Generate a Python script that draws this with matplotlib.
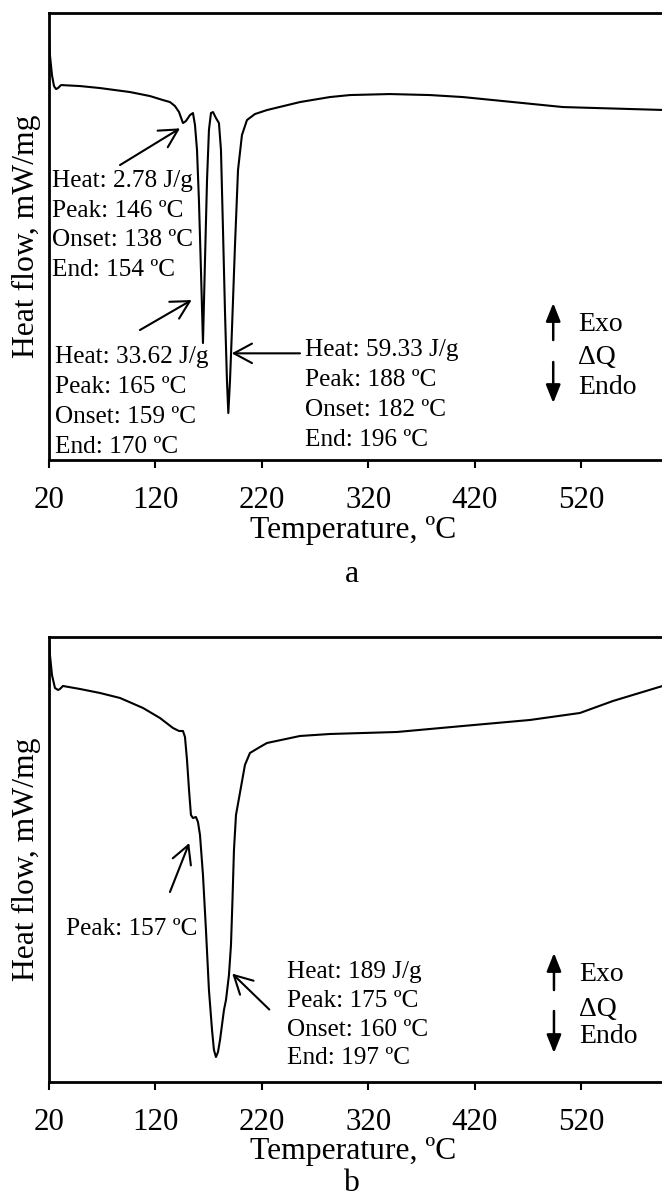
import matplotlib.pyplot as plt

plt.rcParams['font.family'] = ['Liberation Serif', 'DejaVu Serif']

# DSC curve (a): temperature in ºC and heat flow (arbitrary units, exo up)
temp_a = [20.0, 20.9, 22.8, 24.7, 26.6, 28.5, 31.3, 49.1, 67.9, 96.1, 114.8,
          127.0, 133.6, 138.3, 142.1, 145.8, 148.6, 152.4, 155.2, 157.1, 159.0,
          160.8, 162.7, 164.6, 166.5, 168.4, 170.2, 172.1, 174.0, 176.8, 179.6,
          181.5, 183.4, 185.3, 187.1, 188.4, 190.0, 191.8, 194.6, 197.5, 201.2,
          205.9, 213.4, 224.7, 255.7, 283.8, 302.6, 340.0, 377.7, 408.7, 455.7,
          502.6, 534.6, 599.3]
hf_a = [-0.20, -0.42, -0.62, -0.73, -0.76, -0.75, -0.72, -0.73, -0.75, -0.79,
        -0.83, -0.87, -0.89, -0.93, -0.99, -1.10, -1.08, -1.02, -1.00, -1.12,
        -1.37, -1.87, -2.57, -3.30, -2.47, -1.67, -1.17, -1.00, -0.99, -1.05,
        -1.10, -1.37, -2.17, -3.00, -3.67, -4.00, -3.67, -3.17, -2.34, -1.57,
        -1.22, -1.07, -1.01, -0.97, -0.89, -0.84, -0.82, -0.81, -0.82, -0.84,
        -0.89, -0.94, -0.95, -0.97]

# DSC curve (b)
temp_b = [20.0, 20.9, 22.8, 25.6, 28.5, 30.3, 33.1, 49.1, 67.9, 86.7, 108.3,
          124.2, 136.4, 142.1, 145.8, 147.7, 149.6, 151.5, 153.3, 155.2, 158.0,
          159.9, 161.8, 164.6, 167.4, 170.2, 173.1, 174.9, 176.8, 178.7, 180.6,
          184.3, 186.2, 189.0, 190.9, 192.3, 193.7, 195.6, 199.3, 204.0, 208.7,
          218.1, 224.7, 255.7, 283.8, 346.8, 408.7, 471.6, 518.6, 549.6, 599.3]
hf_b = [-0.01, -0.18, -0.38, -0.51, -0.53, -0.52, -0.49, -0.52, -0.56, -0.61,
        -0.71, -0.81, -0.91, -0.94, -0.94, -1.00, -1.23, -1.53, -1.78, -1.81,
        -1.80, -1.85, -1.98, -2.38, -2.93, -3.53, -3.93, -4.13, -4.20, -4.15,
        -4.03, -3.73, -3.63, -3.38, -3.08, -2.63, -2.13, -1.78, -1.56, -1.28,
        -1.16, -1.10, -1.06, -0.99, -0.97, -0.95, -0.89, -0.83, -0.76, -0.64,
        -0.48]

x_ticks = [20, 120, 220, 320, 420, 520]

notes_a = ["Heat: 2.78 J/g\nPeak: 146 ºC\nOnset: 138 ºC\nEnd: 154 ºC",
           "Heat: 33.62 J/g\nPeak: 165 ºC\nOnset: 159 ºC\nEnd: 170 ºC",
           "Heat: 59.33 J/g\nPeak: 188 ºC\nOnset: 182 ºC\nEnd: 196 ºC"]
notes_b = ["Peak: 157 ºC",
           "Heat: 189 J/g\nPeak: 175 ºC\nOnset: 160 ºC\nEnd: 197 ºC"]

fig = plt.figure(figsize=(6.62, 11.98), dpi=100)
ax_a = fig.add_axes([0.074, 0.616, 0.933, 0.3731])
ax_b = fig.add_axes([0.074, 0.0968, 0.933, 0.3715])


def setup(ax, temp, hf, ymin, xlab_y):
    ax.plot(temp, hf, color='black', lw=1.5, solid_joinstyle='round')
    ax.set_xlim(20, 600)
    ax.set_ylim(ymin, 0)
    ax.set_xticks(x_ticks)
    ax.set_yticks([])
    ax.tick_params(axis='x', direction='out', length=6, width=1.5,
                   labelsize=22.3, pad=13)
    for s in ax.spines.values():
        s.set_linewidth(2)
    ax.spines['right'].set_visible(False)
    ax.set_xlabel('Temperature, ºC', fontsize=22.8)
    ax.xaxis.set_label_coords(0.492, xlab_y)
    ax.xaxis.label.set_va('center')
    ax.set_ylabel('Heat flow, mW/mg', fontsize=22.8)
    ax.yaxis.set_label_coords(-0.037, 0.5)
    ax.yaxis.label.set_va('center')


def arrow(ax, tail, head):
    ax.annotate('', xy=head, xytext=tail,
                arrowprops=dict(arrowstyle='->,head_length=0.65,head_width=0.35',
                                lw=1.5, color='black', shrinkA=0, shrinkB=0,
                                mutation_scale=20))


def exo_endo(ax, x_arr, up, down, x_txt, y_txt):
    for a, b in (up, down):
        ax.annotate('', xy=(x_arr, b), xytext=(x_arr, a),
                    arrowprops=dict(arrowstyle='-|>,head_length=0.55,head_width=0.22',
                                    lw=1.8, color='black', shrinkA=0, shrinkB=0,
                                    mutation_scale=20))
    for s, y in zip(['Exo', 'ΔQ', 'Endo'], y_txt):
        ax.text(x_txt, y, s, fontsize=20, ha='left', va='center')


setup(ax_a, temp_a, hf_a, -4.47, -0.1566)
setup(ax_b, temp_b, hf_b, -4.45, -0.155)

# panel a annotations
ax_a.text(22.5, -2.125, notes_a[0], fontsize=18.2, ha='left', va='center',
          linespacing=1.45)
ax_a.text(25.6, -3.89, notes_a[1], fontsize=18.2, ha='left', va='center',
          linespacing=1.47)
ax_a.text(260.4, -3.82, notes_a[2], fontsize=18.2, ha='left', va='center',
          linespacing=1.46)
arrow(ax_a, (86.7, -1.52), (143.0, -1.153))
arrow(ax_a, (105.4, -3.17), (154.0, -2.87))
arrow(ax_a, (255.7, -3.403), (191.6, -3.403))
exo_endo(ax_a, 493.5, (-3.27, -2.90), (-3.49, -3.90), 516.7,
         [-3.117, -3.447, -3.747])

# panel b annotations
ax_b.text(36.0, -2.92, notes_b[0], fontsize=18.2, ha='left', va='center')
ax_b.text(243.5, -3.78, notes_b[1], fontsize=18.2, ha='left', va='center',
          linespacing=1.41)
arrow(ax_b, (133.6, -2.55), (151.7, -2.06))
arrow(ax_b, (226.9, -3.725), (192.1, -3.366))
exo_endo(ax_b, 494.2, (-3.53, -3.16), (-3.74, -4.16), 517.7,
         [-3.377, -3.727, -3.997])

fig.text(0.5317, 0.5142, 'a', fontsize=22.8, ha='center', va='baseline')
fig.text(0.5317, 0.006, 'b', fontsize=22.8, ha='center', va='baseline')

fig.savefig('out.png', dpi=100)
